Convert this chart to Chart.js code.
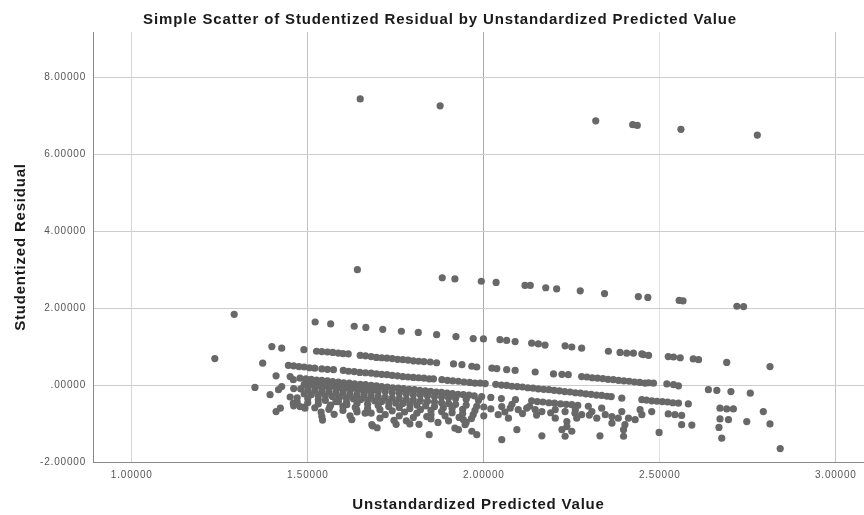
<!DOCTYPE html>
<html>
<head>
<meta charset="utf-8">
<script src="https://cdn.jsdelivr.net/npm/chart.js@4"></script>
<style>
  html, body { margin: 0; padding: 0; background: #ffffff; }
  #wrap { position: relative; width: 864px; height: 515px; }
</style>
</head>
<body>
<div id="wrap"><canvas id="c"></canvas></div>
<script>
// ---- text ----
const chartTitle = 'Simple Scatter of Studentized Residual by Unstandardized Predicted Value';
const xAxisTitle = 'Unstandardized Predicted Value';
const yAxisTitle = 'Studentized Residual';

// ---- ticks ----
const xTickValues = [1.0, 1.5, 2.0, 2.5, 3.0];
const xTickLabels = ['1.00000', '1.50000', '2.00000', '2.50000', '3.00000'];
const yTickValues = [-2, 0, 2, 4, 6, 8];
const yTickLabels = ['-2.00000', '.00000', '2.00000', '4.00000', '6.00000', '8.00000'];

// ---- data: [unstandardized predicted value, studentized residual] ----
const outlierPoints = [
  [1.649,7.44],[1.876,7.26],[2.318,6.87],[2.423,6.77],[2.436,6.75],[2.560,6.65],[2.777,6.50]
];
const bandHigh = [
  [1.641,3.00],[1.882,2.79],[1.918,2.76],[1.993,2.70],[2.035,2.67],[2.117,2.59],[2.132,2.59],
  [2.176,2.53],[2.207,2.50],[2.274,2.45],[2.343,2.38],[2.439,2.30],[2.466,2.28],[2.555,2.20],
  [2.566,2.19],[2.719,2.05],[2.738,2.04]
];
const isolatedLeft = [[1.291,1.84],[1.236,0.69]];
const bandOne = [
  [1.521,1.64],[1.565,1.59],[1.632,1.53],[1.665,1.50],[1.713,1.45],[1.766,1.40],[1.814,1.37],
  [1.866,1.31],[1.921,1.26],[1.970,1.21],[1.999,1.20],[2.046,1.18],[2.065,1.16],[2.089,1.13],
  [2.136,1.09],[2.155,1.07],[2.174,1.04],[2.231,1.02],[2.250,0.99],[2.278,0.96],[2.354,0.88],
  [2.387,0.85],[2.406,0.83],[2.425,0.83],[2.449,0.81],[2.453,0.79],[2.468,0.77],[2.524,0.74],
  [2.539,0.73],[2.558,0.71],[2.595,0.68],[2.610,0.66],[2.690,0.59],[2.813,0.48]
];
const bandTwo = [
  [1.398,1.00],[1.426,0.96],[1.489,0.92],[1.525,0.88],[1.540,0.87],[1.556,0.86],[1.571,0.85],
  [1.587,0.83],[1.600,0.82],[1.615,0.81],[1.649,0.77],[1.664,0.76],[1.680,0.74],[1.695,0.72],
  [1.710,0.71],[1.725,0.70],[1.740,0.69],[1.755,0.67],[1.770,0.66],[1.785,0.65],[1.800,0.63],
  [1.815,0.62],[1.830,0.61],[1.848,0.60],[1.866,0.58],[1.914,0.55],[1.938,0.53],[1.966,0.49],
  [1.980,0.47],[2.023,0.44],[2.037,0.43],[2.065,0.40],[2.089,0.38],[2.146,0.34],[2.198,0.29],
  [2.222,0.28],[2.240,0.27],[2.278,0.22],[2.293,0.21],[2.308,0.19],[2.323,0.18],[2.338,0.17],
  [2.353,0.15],[2.368,0.14],[2.383,0.12],[2.398,0.11],[2.413,0.10],[2.428,0.08],[2.443,0.07],
  [2.458,0.05],[2.468,0.06],[2.482,0.05],[2.520,0.03],[2.539,0.01],[2.553,-0.02],[2.638,-0.12],
  [2.662,-0.14],[2.702,-0.17],[2.757,-0.21]
];
const bandThree = [
  [1.372,0.57],[1.445,0.51],[1.460,0.50],[1.475,0.48],[1.490,0.47],[1.505,0.45],[1.520,0.44],
  [1.540,0.42],[1.556,0.41],[1.573,0.40],[1.601,0.38],[1.616,0.36],[1.632,0.35],[1.648,0.33],
  [1.664,0.32],[1.680,0.31],[1.695,0.29],[1.710,0.28],[1.725,0.27],[1.740,0.25],[1.755,0.24],
  [1.770,0.22],[1.785,0.21],[1.800,0.20],[1.815,0.19],[1.830,0.18],[1.845,0.16],[1.857,0.16],
  [1.881,0.14],[1.897,0.12],[1.912,0.11],[1.928,0.10],[1.944,0.08],[1.960,0.07],[1.975,0.05],
  [1.990,0.05],[2.004,0.04],[2.034,0.02],[2.050,0.00],[2.065,-0.01],[2.080,-0.03],[2.095,-0.04],
  [2.110,-0.05],[2.125,-0.07],[2.140,-0.08],[2.155,-0.10],[2.170,-0.11],[2.185,-0.12],[2.200,-0.14],
  [2.215,-0.15],[2.230,-0.17],[2.245,-0.18],[2.260,-0.20],[2.275,-0.21],[2.290,-0.23],[2.305,-0.24],
  [2.320,-0.26],[2.335,-0.27],[2.350,-0.29],[2.362,-0.30],[2.392,-0.34],[2.449,-0.38],[2.462,-0.39],
  [2.477,-0.41],[2.492,-0.42],[2.507,-0.43],[2.522,-0.44],[2.537,-0.46],[2.553,-0.47],[2.581,-0.49],
  [2.671,-0.60],[2.690,-0.62],[2.709,-0.62],[2.794,-0.69]
];
const bandFour = [
  [1.410,0.24],[1.450,0.22],[1.459,0.14],[1.478,0.18],[1.495,0.16],[1.510,0.15],[1.525,0.13],
  [1.540,0.12],[1.556,0.11],[1.571,0.09],[1.587,0.08],[1.602,0.06],[1.618,0.05],[1.633,0.03],
  [1.649,0.02],[1.664,0.01],[1.680,-0.01],[1.695,-0.02],[1.710,-0.04],[1.726,-0.05],[1.741,-0.07],
  [1.757,-0.08],[1.772,-0.09],[1.788,-0.11],[1.803,-0.12],[1.818,-0.14],[1.834,-0.15],[1.849,-0.16],
  [1.865,-0.18],[1.880,-0.19],[1.896,-0.21],[1.911,-0.22],[1.927,-0.24],[1.942,-0.25],[1.958,-0.26],
  [1.973,-0.28],[1.994,-0.30],[2.020,-0.32],[2.050,-0.35],[2.090,-0.38],[2.136,-0.41],[2.152,-0.43],
  [2.168,-0.44],[2.185,-0.46],[2.201,-0.47],[2.218,-0.49],[2.234,-0.50],[2.250,-0.51],[2.267,-0.53],
  [2.297,-0.55],[2.477,-0.69],[2.524,-0.75],[2.543,-0.77],[2.562,-0.79],[2.671,-0.88],[2.695,-0.90],
  [2.747,-0.95],[2.813,-1.01]
];
const denseUpper = [
  [1.350,-0.06],[1.426,-0.04],[1.417,-0.12],[1.490,0.02],[1.520,0.00],[1.550,-0.03],[1.580,-0.05],
  [1.610,-0.08],[1.640,-0.10],[1.670,-0.13],[1.700,-0.16],[1.740,-0.19],[1.780,-0.23],[1.820,-0.26],
  [1.860,-0.30],[1.900,-0.33],
  [1.505,0.00],[1.535,-0.02],[1.565,-0.04],[1.595,-0.07],[1.625,-0.09],[1.655,-0.12],[1.685,-0.14],
  [1.720,-0.17],[1.760,-0.21],[1.800,-0.25],[1.840,-0.28],[1.880,-0.31],[1.920,-0.35],[1.950,-0.37],
  [1.985,-0.40],
  [1.460,-0.09],[1.480,-0.10],[1.500,-0.12],[1.520,-0.14],[1.540,-0.16],[1.560,-0.17],[1.580,-0.19],
  [1.600,-0.21],[1.620,-0.23],[1.640,-0.25],[1.660,-0.26],[1.680,-0.28],[1.700,-0.30],[1.720,-0.32],
  [1.740,-0.34],[1.760,-0.35],[1.780,-0.37],[1.800,-0.39],[1.820,-0.41],[1.840,-0.42],[1.860,-0.44],
  [1.880,-0.46],[1.900,-0.48],[1.920,-0.50],[1.950,-0.52],[1.980,-0.55],[2.000,-0.57]
];
const denseMiddle = [
  [1.393,-0.25],[1.490,-0.23],[1.530,-0.27],[1.570,-0.30],[1.610,-0.34],[1.650,-0.38],[1.690,-0.41],
  [1.730,-0.45],[1.770,-0.48],[1.810,-0.52],[1.860,-0.56],[1.910,-0.61],
  [1.510,-0.25],[1.550,-0.28],[1.590,-0.32],[1.630,-0.36],[1.670,-0.39],[1.710,-0.43],[1.750,-0.47],
  [1.790,-0.50],[1.835,-0.54],[1.885,-0.59],[1.940,-0.63],[1.975,-0.66],
  [1.450,-0.31],[1.470,-0.33],[1.500,-0.35],[1.530,-0.38],[1.550,-0.40],[1.580,-0.43],[1.610,-0.45],
  [1.640,-0.48],[1.670,-0.50],[1.700,-0.53],[1.730,-0.56],[1.760,-0.58],[1.790,-0.61],[1.820,-0.64],
  [1.850,-0.66],[1.880,-0.69],[1.910,-0.72],[1.940,-0.74],[1.970,-0.77],[2.000,-0.80],
  [1.470,-0.44],[1.500,-0.46],[1.530,-0.49],[1.565,-0.52],[1.600,-0.55],[1.635,-0.58],[1.670,-0.61],
  [1.705,-0.64],[1.740,-0.67],[1.775,-0.70],[1.810,-0.73],[1.850,-0.77],[1.890,-0.80],[1.930,-0.84],
  [1.965,-0.87]
];
const denseLower = [
  [1.460,-0.54],[1.490,-0.57],[1.520,-0.59],[1.560,-0.63],[1.600,-0.66],[1.640,-0.70],[1.680,-0.73],
  [1.720,-0.77],[1.760,-0.80],[1.800,-0.84],[1.850,-0.88],[1.900,-0.93],[1.950,-0.97],
  [1.575,-0.76],[1.620,-0.80],[1.705,-0.86],[1.780,-0.93],[1.870,-0.97],[1.625,-0.90],[1.790,-1.01],
  [1.459,-0.47],[1.478,-0.56],[1.492,-0.60],[1.422,-0.60],[1.410,-0.69],
  [1.538,-0.70],[1.540,-0.81],[1.542,-0.91],[1.563,-0.56],[1.587,-0.43],[1.611,-0.51],[1.639,-0.64],
  [1.663,-0.73],[1.682,-1.03],[1.684,-1.06],[1.697,-1.11],[1.745,-0.92],[1.751,-1.02],[1.816,-1.02],
  [1.838,-0.82],[1.845,-1.29],[1.918,-1.12],[1.928,-1.16],[1.942,-0.90],[1.947,-1.03],[1.966,-1.20],
  [1.980,-1.29]
];
const scatterRight = [
  [2.051,-0.56],[2.075,-0.60],[2.098,-0.64],[2.122,-0.60],[2.146,-0.64],[2.165,-0.69],[2.203,-0.64],
  [2.231,-0.69],[2.259,-0.73],[2.278,-0.77],[2.307,-0.69],[2.335,-0.60],[2.345,-0.77],[2.364,-0.82],
  [2.392,-0.69],[2.411,-0.86],[2.430,-0.90],[2.449,-0.77],[2.041,-0.77],[2.070,-0.86],[2.203,-0.86],
  [2.236,-0.95],[2.264,-0.86],[2.321,-0.86],[2.364,-0.99],[2.382,-0.86],[2.401,-1.03],[2.222,-1.16],
  [2.236,-1.08],[2.250,-1.20],[2.397,-1.16],[2.444,-0.64],
  [2.020,-0.62],[2.060,-0.70],[2.110,-0.74],[2.150,-0.78],[2.190,-0.72],[2.260,-0.64],[2.300,-0.78],
  [2.130,-0.55],[2.080,-0.50],
  [2.051,-1.42],[2.094,-1.16],[2.165,-1.32],[2.231,-1.33],[2.330,-1.32],[2.397,-1.33],
  [2.498,-1.23],[2.562,-1.03],[2.591,-1.04],[2.668,-1.10],[2.676,-1.38],[2.842,-1.65]
];

const allPoints = [].concat(outlierPoints, bandHigh, isolatedLeft, bandOne, bandTwo, bandThree,
  bandFour, denseUpper, denseMiddle, denseLower, scatterRight).map(p => ({ x: p[0], y: p[1] }));

// per-line grid shades seen in the reference
const xGridColors = ['#d6d6d6', '#c2c2c2', '#a9a9a9', '#e2e2e2', '#c4c4c4'];

const FONT = '"Liberation Sans", Arial, sans-serif';

const textSpacingPlugin = {
  id: 'textSpacing',
  beforeDraw(chart) { chart.ctx.letterSpacing = '0.8px'; }
};

const titlePlugin = {
  id: 'refTitle',
  afterDraw(chart) {
    const ctx = chart.ctx;
    ctx.save();
    ctx.letterSpacing = '0.85px';
    ctx.font = 'bold 15px ' + FONT;
    ctx.fillStyle = '#1a1a1a';
    ctx.textAlign = 'center';
    ctx.textBaseline = 'middle';
    ctx.fillText(chartTitle, 440, 20);
    ctx.restore();
  }
};

new Chart(document.getElementById('c'), {
  type: 'scatter',
  data: {
    datasets: [{
      label: 'Studentized Residual',
      data: allPoints,
      backgroundColor: '#686868',
      borderWidth: 0,
      pointRadius: 3.6,
      pointHoverRadius: 3.6
    }]
  },
  plugins: [textSpacingPlugin, titlePlugin],
  options: {
    responsive: true,
    maintainAspectRatio: false,
    animation: false,
    events: [],
    layout: { autoPadding: false, padding: { top: 32, left: 0, right: 0, bottom: 0 } },
    plugins: {
      legend: { display: false },
      title: { display: false },
      tooltip: { enabled: false }
    },
    scales: {
      x: {
        type: 'linear',
        min: 0.89,
        max: 3.08,
        afterBuildTicks: s => { s.ticks = xTickValues.map(v => ({ value: v })); },
        afterFit: s => { s.height = 53; },
        grid: {
          color: ctx => xGridColors[ctx.index] || '#cfcfcf',
          lineWidth: 1,
          drawTicks: false
        },
        border: { color: '#8a8a8a', width: 1 },
        ticks: {
          padding: 7,
          color: '#555555',
          font: { family: FONT, size: 10 },
          maxRotation: 0,
          callback: (v, i) => xTickLabels[i]
        },
        title: {
          display: true,
          text: xAxisTitle,
          color: '#1a1a1a',
          font: { family: FONT, size: 15, weight: 'bold' },
          padding: { top: 0, bottom: 1 }
        }
      },
      y: {
        type: 'linear',
        min: -2,
        max: 9.18,
        afterBuildTicks: s => { s.ticks = yTickValues.map(v => ({ value: v })); },
        afterFit: s => { s.width = 93; },
        grid: { color: '#cdcdcd', lineWidth: 1, drawTicks: false },
        border: { color: '#8a8a8a', width: 1 },
        ticks: {
          padding: 7,
          color: '#555555',
          font: { family: FONT, size: 10 },
          callback: (v, i) => yTickLabels[i]
        },
        title: {
          display: true,
          text: yAxisTitle,
          color: '#1a1a1a',
          font: { family: FONT, size: 15, weight: 'bold' },
          padding: { top: 12, bottom: 0 }
        }
      }
    }
  }
});
</script>
</body>
</html>
